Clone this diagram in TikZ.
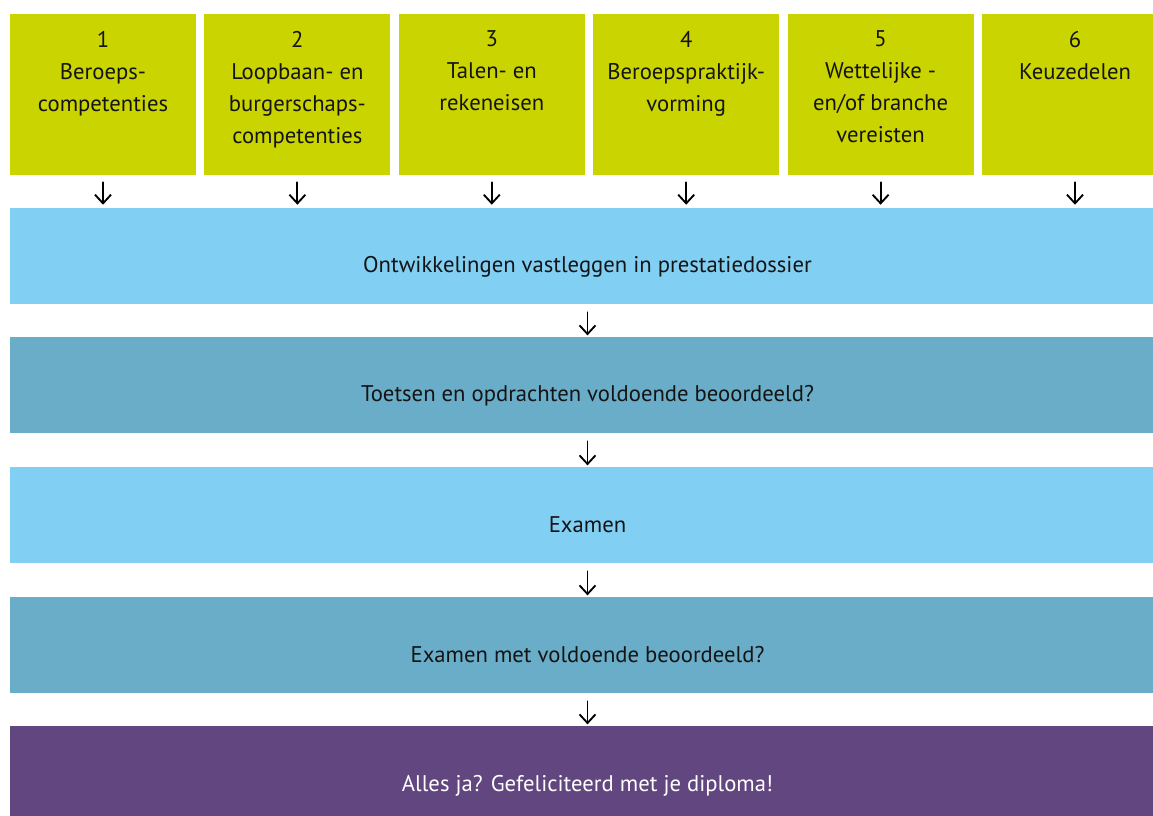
\documentclass[tikz,border=0pt]{standalone}
\usepackage{fontspec}
\setmainfont{PT Sans}
\usetikzlibrary{positioning,arrows.meta}
\definecolor{kdgreen}{HTML}{CAD400}
\definecolor{kdlight}{HTML}{82CFF4}
\definecolor{kdmid}{HTML}{6AADC8}
\definecolor{kdpurple}{HTML}{624680}
\definecolor{kdtext}{HTML}{141414}
\begin{document}
\begin{tikzpicture}[x=0.75pt, y=-0.75pt, line join=round, line cap=round, font=\fontsize{17}{24}\selectfont, text=kdtext]
	\pgfmathsetmacro\boxw{186*0.75}
	\pgfmathsetmacro\boxh{161*0.75}
	\pgfmathsetmacro\bandw{1155*0.75}
	\pgfmathsetmacro\bandh{96*0.75}
	\tikzset{
		topbox/.style={fill=kdgreen, minimum width=\boxw pt, minimum height=\boxh pt, inner sep=0pt},
		boxtext/.style={align=center, inner sep=0pt},
		band/.style={minimum width=\bandw pt, minimum height=\bandh pt, inner sep=0pt, text height=25.5pt, text depth=0pt},
		arr/.style={line width=1.4pt, -{Straight Barb[length=6.5pt, width=12pt]}}
	}
	\useasboundingbox (0,0) rectangle (1153,816);
	% six top boxes
	\node[topbox] (comp1) at (103,94.5) {};
	\node[topbox] (comp2) at (297.4,94.5) {};
	\node[topbox] (comp3) at (491.8,94.5) {};
	\node[topbox] (comp4) at (686.2,94.5) {};
	\node[topbox] (comp5) at (880.6,94.5) {};
	\node[topbox] (comp6) at (1075,94.5) {};
	\node[boxtext, below=12.75pt of comp1.north] (txt1) {1\\Beroeps-\\competenties};
	\node[boxtext, below=12.75pt of comp2.north] (txt2) {2\\Loopbaan- en\\burgerschaps-\\competenties};
	\node[boxtext, below=12.75pt of comp3.north] (txt3) {3\\Talen- en\\rekeneisen};
	\node[boxtext, below=12.75pt of comp4.north] (txt4) {4\\Beroepspraktijk-\\vorming};
	\node[boxtext, below=12.75pt of comp5.north] (txt5) {5\\Wettelijke -\\en/of branche\\vereisten};
	\node[boxtext, below=12.75pt of comp6.north] (txt6) {6\\Keuzedelen};
	% bands
	\node[band, fill=kdlight] (dossier) at (587.5,256) {Ontwikkelingen vastleggen in prestatiedossier};
	\node[band, fill=kdmid] (toetsen) at (587.5,385) {Toetsen en opdrachten voldoende beoordeeld?};
	\node[band, fill=kdlight] (examen) at (587.5,515) {Examen};
	\node[band, fill=kdmid] (uitslag) at (587.5,645) {Examen met voldoende beoordeeld?};
	\node[band, fill=kdpurple, text=white] (diploma) at (587.5,774) {Alles ja? Gefeliciteerd met je diploma!};
	% arrows
	\draw[arr, shorten <=5.25pt, shorten >=2.25pt] (comp1.south) -- (comp1.south |- dossier.north);
	\draw[arr, shorten <=5.25pt, shorten >=2.25pt] (comp2.south) -- (comp2.south |- dossier.north);
	\draw[arr, shorten <=5.25pt, shorten >=2.25pt] (comp3.south) -- (comp3.south |- dossier.north);
	\draw[arr, shorten <=5.25pt, shorten >=2.25pt] (comp4.south) -- (comp4.south |- dossier.north);
	\draw[arr, shorten <=5.25pt, shorten >=2.25pt] (comp5.south) -- (comp5.south |- dossier.north);
	\draw[arr, shorten <=5.25pt, shorten >=2.25pt] (comp6.south) -- (comp6.south |- dossier.north);
	\draw[arr, shorten <=6pt, shorten >=1pt] (dossier) -- (toetsen);
	\draw[arr, shorten <=6pt, shorten >=1pt] (toetsen) -- (examen);
	\draw[arr, shorten <=6pt, shorten >=1pt] (examen) -- (uitslag);
	\draw[arr, shorten <=6pt, shorten >=1pt] (uitslag) -- (diploma);
\end{tikzpicture}
\end{document}
